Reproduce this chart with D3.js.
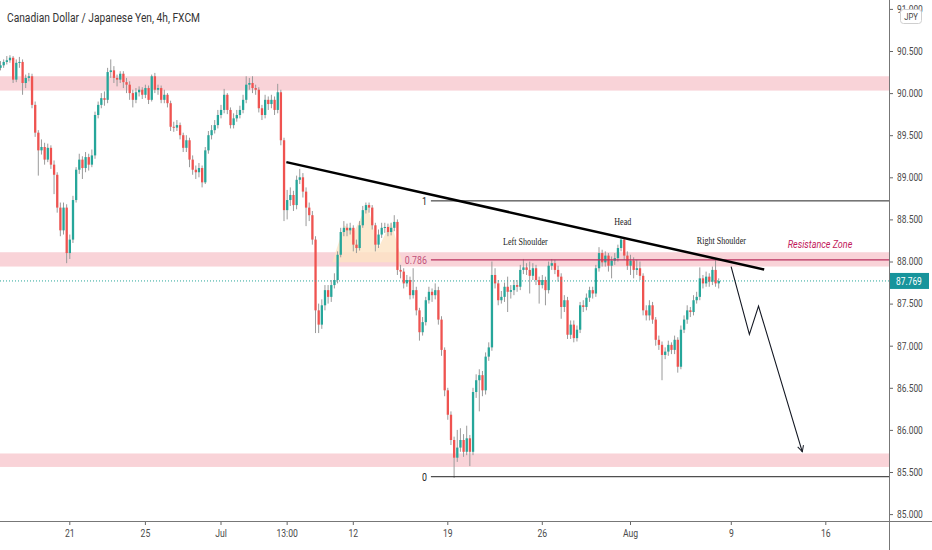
<!DOCTYPE html>
<html>
<head>
<meta charset="utf-8">
<script src="https://cdn.jsdelivr.net/npm/d3@7"></script>
<style>
  html, body { margin: 0; padding: 0; background: #fff; }
  svg { display: block; font-family: Roboto, "Noto Sans", sans-serif; }
</style>
</head>
<body>
<div class="chart"></div>
<script>
// CAD/JPY 4h candles (open = previous close)
const firstOpen = 90.30;
const closes = [
  90.33,90.37,90.39,90.42,90.16,90.36,90.37,90.12,90.18,90.20,
  89.86,89.53,89.32,89.36,89.21,89.35,89.15,89.03,88.64,88.37,
  88.64,88.10,88.26,88.73,89.09,89.21,89.11,89.24,89.15,89.26,
  89.74,89.86,89.94,89.92,90.25,90.27,90.18,90.16,90.23,90.13,
  90.10,90.00,89.92,90.01,90.04,89.98,90.06,89.92,90.20,90.04,
  90.06,89.92,89.98,89.88,89.60,89.59,89.62,89.50,89.35,89.44,
  89.21,89.09,89.06,89.11,88.94,89.32,89.50,89.56,89.62,89.74,
  89.80,89.98,89.80,89.62,89.70,89.74,89.80,89.92,90.10,90.12,
  90.06,90.04,89.82,89.74,89.92,89.87,89.92,89.80,90.01,89.44,
  88.61,88.73,88.79,88.67,88.97,89.00,88.83,88.64,88.55,88.26,
  87.42,87.25,87.48,87.66,87.58,87.72,87.78,88.08,88.35,88.40,
  88.37,88.40,88.20,88.16,88.43,88.61,88.67,88.64,88.43,88.20,
  88.32,88.40,88.41,88.35,88.40,88.47,87.90,87.88,87.74,87.78,
  87.60,87.66,87.42,87.16,87.28,87.54,87.64,87.60,87.66,87.31,
  86.95,86.47,86.18,85.88,85.67,85.79,85.88,85.74,85.90,85.74,
  86.45,86.59,86.65,86.47,86.87,86.98,87.84,87.74,87.54,87.58,
  87.70,87.64,87.66,87.72,87.70,87.90,87.93,87.90,87.83,87.92,
  87.78,87.72,87.78,87.66,87.95,87.98,87.90,87.82,87.46,87.54,
  87.13,87.25,87.09,87.19,87.48,87.46,87.57,87.66,87.62,87.92,
  88.10,87.99,88.07,87.95,88.01,88.04,88.16,88.26,88.07,87.95,
  88.01,87.90,87.92,87.83,87.42,87.36,87.48,87.31,87.07,87.01,
  86.89,86.93,87.01,86.95,87.07,86.75,87.19,87.31,87.42,87.40,
  87.54,87.58,87.80,87.74,87.82,87.76,87.90,87.74,87.769
];
const highs = [
  90.38,90.40,90.44,90.45,90.44,90.40,90.43,90.40,90.22,90.24,
  90.23,89.90,89.56,89.45,89.41,89.40,89.38,89.20,89.06,88.70,
  88.70,88.68,88.32,88.78,89.12,89.28,89.25,89.30,89.28,89.33,
  89.78,89.90,90.00,90.02,90.30,90.40,90.32,90.22,90.26,90.26,
  90.18,90.14,90.04,90.06,90.08,90.07,90.10,90.09,90.22,90.24,
  90.10,90.09,90.04,90.00,89.91,89.66,89.68,89.65,89.53,89.50,
  89.47,89.26,89.14,89.17,89.14,89.36,89.55,89.62,89.68,89.80,
  89.86,90.05,90.00,89.83,89.76,89.80,89.85,89.98,90.20,90.18,
  90.20,90.10,90.07,89.86,89.98,89.96,89.98,89.96,90.11,90.04,
  89.47,88.85,88.88,88.84,89.02,89.10,89.05,88.88,88.70,88.60,
  88.30,87.50,87.55,87.72,87.72,87.78,87.86,88.12,88.40,88.48,
  88.45,88.46,88.43,88.26,88.48,88.66,88.70,88.70,88.67,88.46,
  88.38,88.46,88.46,88.45,88.46,88.55,88.50,87.96,87.92,87.84,
  87.82,87.92,87.70,87.45,87.34,87.58,87.70,87.68,87.74,87.70,
  87.35,86.98,86.50,86.22,85.92,86.00,86.02,85.95,86.05,85.94,
  86.50,86.66,86.72,86.70,86.92,87.04,88.00,87.92,87.78,87.65,
  87.75,87.82,87.72,87.78,87.78,87.96,88.03,87.98,88.00,87.98,
  87.96,87.82,87.84,87.82,88.00,88.03,88.02,87.95,87.86,87.60,
  87.58,87.30,87.30,87.24,87.52,87.54,87.62,87.70,87.70,87.96,
  88.17,88.14,88.12,88.10,88.06,88.10,88.20,88.28,88.28,88.12,
  88.08,88.05,88.02,88.00,87.86,87.48,87.54,87.52,87.34,87.12,
  87.05,86.98,87.06,87.04,87.12,87.10,87.24,87.36,87.48,87.46,
  87.60,87.64,87.93,87.84,87.88,87.86,87.94,88.03,87.80
];
const lows = [
  90.27,90.30,90.34,90.36,90.12,90.13,90.30,89.98,90.06,90.14,
  89.82,89.48,89.02,89.27,89.15,89.18,89.10,88.80,88.58,88.30,
  88.32,87.98,88.03,88.22,88.70,89.04,88.98,89.06,89.08,89.12,
  89.22,89.70,89.82,89.85,89.88,90.18,90.12,90.08,90.12,90.06,
  90.00,89.92,89.83,89.88,89.96,89.93,89.94,89.87,89.90,90.00,
  89.98,89.88,89.88,89.83,89.55,89.54,89.55,89.45,89.30,89.30,
  89.12,89.03,88.98,89.00,88.88,88.92,89.28,89.45,89.52,89.58,
  89.70,89.76,89.75,89.58,89.58,89.66,89.70,89.76,89.88,90.04,
  90.00,89.98,89.77,89.68,89.70,89.80,89.82,89.74,89.76,89.38,
  88.48,88.50,88.66,88.60,88.62,88.92,88.76,88.42,88.48,88.20,
  87.15,87.15,87.20,87.42,87.50,87.52,87.68,87.74,88.05,88.30,
  88.30,88.32,88.12,88.10,88.13,88.40,88.57,88.58,88.38,88.12,
  88.16,88.28,88.34,88.30,88.31,88.36,87.84,87.80,87.68,87.70,
  87.55,87.56,87.36,87.06,87.12,87.24,87.50,87.52,87.55,87.25,
  86.88,86.40,86.12,85.82,85.43,85.62,85.74,85.68,85.70,85.57,
  85.70,86.38,86.22,86.40,86.42,86.82,86.94,87.68,87.48,87.50,
  87.52,87.40,87.56,87.60,87.64,87.66,87.85,87.84,87.62,87.78,
  87.72,87.50,87.68,87.48,87.62,87.90,87.85,87.76,87.32,87.40,
  87.08,87.08,87.04,87.05,87.15,87.40,87.42,87.52,87.56,87.58,
  87.88,87.94,87.94,87.88,87.80,87.96,88.00,88.12,88.02,87.90,
  87.84,87.80,87.84,87.78,87.36,87.30,87.30,87.26,87.00,86.95,
  86.59,86.84,86.88,86.90,86.90,86.68,86.72,87.15,87.26,87.34,
  87.36,87.50,87.54,87.68,87.70,87.70,87.72,87.70,87.68
];

// time axis: bar index of each labelled tick
const timeTickIdx = [22, 46, 70, 91, 112, 142, 172, 200, 232, 262];
const timeTickLabels = ["21", "25", "Jul", "13:00", "12", "19", "26", "Aug", "9", "16"];
const priceTicks = [85, 85.5, 86, 86.5, 87, 87.5, 88, 88.5, 89, 89.5, 90, 90.5, 91];
const lastPrice = 87.769;

// drawings, in [bar index, price]
const zones = [[90.03, 90.20], [87.94, 88.11], [85.56, 85.72]];
const trendLine = [[90.9, 89.18], [242.6, 87.905]];
const fibStartIdx = 136.8;
const fibHigh = 88.72, fibLow = 85.444;
const fibLevels = [1, 0.786, 0];
const projection = [[232.1, 87.94], [237.9, 87.135], [240.8, 87.47], [254.7, 85.74]];
const patternShade = [[105.5, 87.99], [109.3, 88.43], [112.5, 88.36], [116.6, 88.68],
                      [120.1, 88.16], [124.2, 88.47], [127.7, 87.99]];
const notes = [
  {text: "Left Shoulder", idx: 166.8, price: 88.20},
  {text: "Head", idx: 197.7, price: 88.43},
  {text: "Right Shoulder", idx: 229.0, price: 88.21}
];

// layout
const width = 932, height = 550;
const plotRight = 889, plotBottom = 521;
const barStep = 3.15;

const x = d3.scaleLinear().domain([0, 1]).range([0, barStep]);
const y = d3.scaleLinear().domain([85, 90.5]).range([514.1, 51]);

const svg = d3.select(".chart").append("svg")
    .attr("width", width)
    .attr("height", height);

svg.append("defs").append("clipPath").attr("id", "plot")
  .append("rect").attr("width", plotRight).attr("height", plotBottom);

svg.select("defs").append("marker")
    .attr("id", "arrow")
    .attr("viewBox", "0 0 8 8")
    .attr("refX", 7).attr("refY", 4)
    .attr("markerWidth", 8).attr("markerHeight", 8)
    .attr("markerUnits", "userSpaceOnUse")
    .attr("orient", "auto")
  .append("path")
    .attr("d", "M1,1 L7,4 L1,7")
    .attr("fill", "none")
    .attr("stroke", "#131722")
    .attr("stroke-width", 1);

function squeeze(sel, k) {
  sel.each(function() {
    const w = this.getComputedTextLength();
    d3.select(this).attr("textLength", w * k).attr("lengthAdjust", "spacingAndGlyphs");
  });
}

const plot = svg.append("g").attr("clip-path", "url(#plot)");

// pink zones
plot.selectAll(".zone")
  .data(zones)
  .join("rect")
    .attr("class", "zone")
    .attr("x", 0)
    .attr("width", plotRight)
    .attr("y", d => y(d[1]))
    .attr("height", d => y(d[0]) - y(d[1]))
    .attr("fill", "#f9d3d8");

// little head & shoulders shading
plot.append("path")
    .datum(patternShade)
    .attr("d", d3.line().x(d => x(d[0])).y(d => y(d[1])))
    .attr("fill", "#fde3c4")
    .attr("opacity", 0.8);

// candles
const candles = closes.map((c, i) => {
  const o = i === 0 ? firstOpen : closes[i - 1];
  return {i, o, c, h: Math.max(highs[i], o, c), l: Math.min(lows[i], o, c)};
});

plot.append("g").selectAll("line")
  .data(candles)
  .join("line")
    .attr("x1", d => x(d.i) + 0.5)
    .attr("x2", d => x(d.i) + 0.5)
    .attr("y1", d => y(d.h))
    .attr("y2", d => y(d.l))
    .attr("stroke", "#9a9a9a")
    .attr("stroke-width", 1);

plot.append("g").selectAll("rect")
  .data(candles)
  .join("rect")
    .attr("x", d => x(d.i) - 0.6)
    .attr("width", 2.3)
    .attr("y", d => y(Math.max(d.o, d.c)))
    .attr("height", d => Math.max(1, Math.abs(y(d.o) - y(d.c))))
    .attr("fill", d => d.c >= d.o ? "#26a69a" : "#ef5350");

// last price line
plot.append("line")
    .attr("x1", 0).attr("x2", plotRight)
    .attr("y1", y(lastPrice)).attr("y2", y(lastPrice))
    .attr("stroke", "#26a69a")
    .attr("stroke-width", 1)
    .attr("stroke-dasharray", "1,2");

// fib retracement
const fibPrice = lv => fibLow + lv * (fibHigh - fibLow);
plot.selectAll(".fib")
  .data(fibLevels)
  .join("line")
    .attr("class", "fib")
    .attr("x1", x(fibStartIdx)).attr("x2", plotRight)
    .attr("y1", d => y(fibPrice(d))).attr("y2", d => y(fibPrice(d)))
    .attr("stroke", d => d === 0.786 ? "#b8325f" : "#222")
    .attr("stroke-width", d => d === 0.786 ? 1.2 : 1);

const fibText = svg.selectAll(".fibLabel")
  .data(fibLevels)
  .join("text")
    .attr("class", "fibLabel")
    .attr("x", x(fibStartIdx) - 4)
    .attr("y", d => y(fibPrice(d)))
    .attr("dy", "0.35em")
    .attr("text-anchor", "end")
    .attr("font-size", 11)
    .attr("fill", d => d === 0.786 ? "#c0507a" : "#222")
    .text(d => d === 0.786 ? "0.786" : d);
squeeze(fibText, 0.8);

// neckline / trend line
plot.append("path")
    .datum(trendLine)
    .attr("d", d3.line().x(d => x(d[0])).y(d => y(d[1])))
    .attr("stroke", "#000")
    .attr("stroke-width", 2.5)
    .attr("fill", "none");

// projected path
plot.append("path")
    .datum(projection)
    .attr("d", d3.line().x(d => x(d[0])).y(d => y(d[1])))
    .attr("stroke", "#131722")
    .attr("stroke-width", 1.1)
    .attr("fill", "none")
    .attr("marker-end", "url(#arrow)");

// pattern notes
const noteText = svg.selectAll(".note")
  .data(notes)
  .join("text")
    .attr("class", "note")
    .attr("x", d => x(d.idx))
    .attr("y", d => y(d.price))
    .attr("text-anchor", "middle")
    .attr("font-family", "'Liberation Serif', 'DejaVu Serif', serif")
    .attr("font-size", 9.5)
    .attr("fill", "#222")
    .text(d => d.text);
squeeze(noteText, 0.85);

const zoneText = svg.append("text")
    .attr("x", 820)
    .attr("y", 248)
    .attr("text-anchor", "middle")
    .attr("font-size", 11)
    .attr("font-style", "italic")
    .attr("fill", "#c2185b")
    .text("Resistance Zone");
squeeze(zoneText, 0.82);

// axes
const xAxis = d3.axisBottom(x)
    .tickValues(timeTickIdx)
    .tickFormat((d, i) => timeTickLabels[i])
    .tickSize(4)
    .tickPadding(5);

const gx = svg.append("g")
    .attr("transform", "translate(0," + plotBottom + ")")
    .call(xAxis);
gx.select(".domain").remove();
gx.selectAll(".tick line").attr("stroke", "#666");
gx.selectAll(".tick text").attr("fill", "#4a4a4a").attr("font-size", 10.5)
    .attr("font-family", "Roboto, sans-serif");
squeeze(gx.selectAll(".tick text"), 0.82);

const yAxis = d3.axisRight(y)
    .tickValues(priceTicks)
    .tickFormat(d3.format(".3f"))
    .tickSize(4)
    .tickPadding(4);

const gy = svg.append("g")
    .attr("transform", "translate(" + plotRight + ",0)")
    .call(yAxis);
gy.select(".domain").remove();
gy.selectAll(".tick line").attr("stroke", "#666");
gy.selectAll(".tick text").attr("fill", "#4a4a4a").attr("font-size", 10.5)
    .attr("font-family", "Roboto, sans-serif");
squeeze(gy.selectAll(".tick text"), 0.8);

svg.append("line")
    .attr("x1", 0).attr("x2", width)
    .attr("y1", plotBottom + 0.5).attr("y2", plotBottom + 0.5)
    .attr("stroke", "#777");
svg.append("line")
    .attr("x1", plotRight + 0.5).attr("x2", plotRight + 0.5)
    .attr("y1", 0).attr("y2", height)
    .attr("stroke", "#777");

// last price tag
svg.append("rect")
    .attr("x", plotRight + 1).attr("y", y(lastPrice) - 8)
    .attr("width", 39).attr("height", 16)
    .attr("fill", "#17949c");
const priceTag = svg.append("text")
    .attr("x", plotRight + 7).attr("y", y(lastPrice))
    .attr("dy", "0.35em")
    .attr("font-size", 10.5)
    .attr("fill", "#fff")
    .text(lastPrice.toFixed(3));
squeeze(priceTag, 0.8);

// currency badge
svg.append("rect")
    .attr("x", 900.5).attr("y", 9.5)
    .attr("width", 21).attr("height", 14)
    .attr("rx", 3)
    .attr("fill", "#fff")
    .attr("stroke", "#cfcfcf");
const badge = svg.append("text")
    .attr("x", 911).attr("y", 17)
    .attr("dy", "0.35em")
    .attr("text-anchor", "middle")
    .attr("font-size", 9)
    .attr("fill", "#444")
    .text("JPY");
squeeze(badge, 0.85);

// title
const title = svg.append("text")
    .attr("x", 7).attr("y", 21.5)
    .attr("font-size", 12.5)
    .attr("fill", "#333")
    .text("Canadian Dollar / Japanese Yen, 4h, FXCM");
title.attr("textLength", 193).attr("lengthAdjust", "spacingAndGlyphs");
</script>
</body>
</html>
